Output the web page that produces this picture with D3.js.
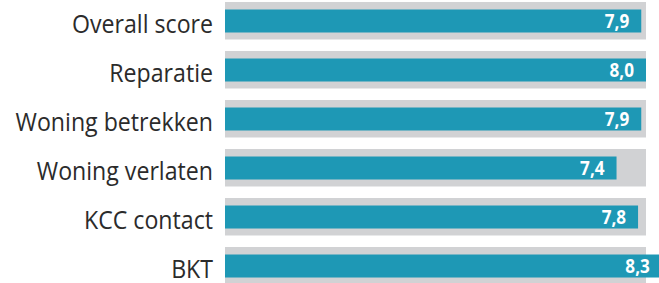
<!DOCTYPE html>
<html>
<head>
    <meta charset="utf-8">
    <style>
        body { margin: 0; background: #fff; }
        .cat { font: 400 26px "Open Sans", sans-serif; fill: #2b2b2b; }
        .val { font: 700 19px "Open Sans", sans-serif; fill: #fff; }
    </style>
</head>
<body>
    <div id="container"></div>
    <script src="https://d3js.org/d3.v7.min.js"></script>
    <script>
        const categories = ["Overall score", "Reparatie", "Woning betrekken", "Woning verlaten", "KCC contact", "BKT"];
        const values = [7.91, 8.0, 7.91, 7.44, 7.849, 8.3];
        const maxScore = 8;

        const width = 659, height = 283;
        const left = 225, right = 646;

        const svg = d3.select("#container").append("svg")
            .attr("width", width)
            .attr("height", height);

        const x = d3.scaleLinear().domain([0, maxScore]).range([left, right]);
        const y = d3.scaleBand().domain(categories).range([2, 284.5]).paddingInner(0.235);
        const inset = 7.5, barH = 23;
        const fmt = d => d3.format(".1f")(d).replace(".", ",");

        const rows = svg.selectAll("g.row")
            .data(categories.map((c, i) => ({ name: c, value: values[i] })))
            .join("g")
            .attr("class", "row")
            .attr("transform", d => `translate(0,${y(d.name)})`);

        rows.append("rect")
            .attr("x", x(0))
            .attr("width", x(maxScore) - x(0))
            .attr("height", y.bandwidth())
            .attr("fill", "#d1d2d4");

        rows.append("rect")
            .attr("x", x(0))
            .attr("y", inset)
            .attr("width", d => x(d.value) - x(0))
            .attr("height", barH)
            .attr("fill", "#1e98b5");

        // labels are a bit narrower in the original font
        rows.append("text")
            .attr("class", "cat")
            .attr("transform", `translate(213,${y.bandwidth() / 2 + 12}) scale(0.89,1)`)
            .attr("text-anchor", "end")
            .text(d => d.name);

        rows.append("text")
            .attr("class", "val")
            .attr("transform", d => `translate(${x(d.value) - 12},${inset + barH / 2 + 6.5}) scale(0.9,1)`)
            .attr("text-anchor", "end")
            .text(d => fmt(d.value));
    </script>
</body>
</html>
